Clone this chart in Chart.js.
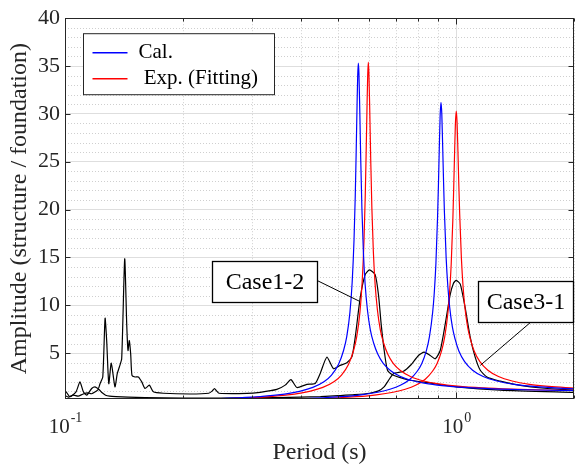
<!DOCTYPE html>
<html>
<head>
<meta charset="utf-8">
<script src="https://cdn.jsdelivr.net/npm/chart.js@4.4.1/dist/chart.umd.min.js"></script>
<style>
  html, body { margin: 0; padding: 0; background: #fff; }
</style>
</head>
<body>
<canvas id="chart" width="580" height="468"></canvas>
<script>
// values: period (s) vs amplitude ratio

// Case1-2, calculated (blue)
const calPeriod12 = [0.1, 0.15, 0.2, 0.25, 0.3, 0.35, 0.4, 0.43, 0.46, 0.48, 0.5, 0.515, 0.525, 0.535, 0.542, 0.548, 0.552, 0.555, 0.558, 0.56, 0.562, 0.564, 0.567, 0.57, 0.574, 0.579, 0.585, 0.593, 0.603, 0.615, 0.63, 0.65, 0.68, 0.72, 0.78, 0.85, 0.95, 1.1, 1.3, 1.6, 2.0];
const calAmp12 = [0.033, 0.077, 0.145, 0.247, 0.399, 0.634, 1.03, 1.41, 2.03, 2.7, 3.8, 5.24, 6.71, 9.28, 12.38, 16.84, 21.45, 26.08, 31.2, 34.0, 35.3, 34.3, 30.1, 25.3, 20.1, 15.6, 12.2, 9.5, 7.46, 6.05, 4.9, 3.96, 3.16, 2.56, 2.08, 1.78, 1.54, 1.353, 1.23, 1.141, 1.086];

// Case1-2, experiment fitting (red)
const expPeriod12 = [0.1, 0.1591, 0.2121, 0.2651, 0.3182, 0.3712, 0.4242, 0.456, 0.4878, 0.509, 0.5303, 0.5462, 0.5568, 0.5674, 0.5748, 0.5812, 0.5854, 0.5886, 0.5918, 0.5939, 0.596, 0.5981, 0.6013, 0.6045, 0.6087, 0.614, 0.6204, 0.6289, 0.6395, 0.6522, 0.6681, 0.6893, 0.7211, 0.7636, 0.8272, 0.9014, 1.0075, 1.1666, 1.3787, 1.6968, 2.0];
const expAmp12 = [0.029, 0.077, 0.145, 0.247, 0.399, 0.634, 1.03, 1.41, 2.03, 2.7, 3.8, 5.24, 6.71, 9.28, 12.38, 16.84, 21.45, 26.08, 31.2, 34.0, 35.4, 34.3, 30.1, 25.3, 20.1, 15.6, 12.2, 9.5, 7.46, 6.05, 4.9, 3.96, 3.16, 2.56, 2.08, 1.78, 1.54, 1.353, 1.23, 1.141, 1.098];

// Case3-1, calculated (blue)
const calPeriod31 = [0.1, 0.1523, 0.2285, 0.3047, 0.3656, 0.457, 0.5078, 0.5713, 0.6303, 0.677, 0.7197, 0.7617, 0.7948, 0.8161, 0.8385, 0.8542, 0.8705, 0.8788, 0.8874, 0.8961, 0.9005, 0.905, 0.9095, 0.914, 0.9186, 0.9232, 0.9279, 0.9327, 0.9423, 0.9521, 0.9621, 0.9775, 0.9935, 1.0156, 1.0506, 1.1012, 1.1718, 1.2694, 1.4062, 1.5759, 1.828, 2.0];
const calAmp31 = [0.012, 0.029, 0.067, 0.125, 0.19, 0.333, 0.446, 0.641, 0.907, 1.216, 1.632, 2.27, 3.1, 3.89, 5.23, 6.72, 9.27, 11.3, 14.4, 19.3, 22.5, 26.3, 29.7, 31.2, 30.0, 26.7, 23.1, 19.8, 15.0, 11.9, 9.8, 7.73, 6.45, 5.22, 4.11, 3.21, 2.55, 2.08, 1.73, 1.51, 1.333, 1.264];

// Case3-1, experiment fitting (red)
const expPeriod31 = [0.1, 0.1667, 0.25, 0.3333, 0.4, 0.5, 0.5556, 0.625, 0.6897, 0.7407, 0.7874, 0.8333, 0.8696, 0.8929, 0.9174, 0.9346, 0.9524, 0.9615, 0.9709, 0.9804, 0.9852, 0.9901, 0.995, 1.0, 1.005, 1.0101, 1.0152, 1.0204, 1.0309, 1.0417, 1.0526, 1.0695, 1.087, 1.1111, 1.1494, 1.2048, 1.2821, 1.3889, 1.5385, 1.7241, 2.0];
const expAmp31 = [0.01, 0.029, 0.067, 0.125, 0.19, 0.333, 0.446, 0.641, 0.907, 1.216, 1.632, 2.27, 3.1, 3.89, 5.23, 6.72, 9.24, 11.3, 14.3, 19.0, 22.2, 25.7, 28.9, 30.3, 29.1, 26.1, 22.7, 19.6, 14.9, 11.8, 9.75, 7.7, 6.45, 5.22, 4.11, 3.21, 2.55, 2.08, 1.73, 1.51, 1.333];

// Case1-2, measured (black)
const obsPeriod12 = [0.1, 0.1006, 0.103, 0.1067, 0.1092, 0.1114, 0.1136, 0.117, 0.1193, 0.1217, 0.1229, 0.1249, 0.1266, 0.1278, 0.1294, 0.1313, 0.1342, 0.136, 0.1377, 0.1396, 0.1421, 0.1438, 0.1449, 0.146, 0.1472, 0.1483, 0.151, 0.154, 0.1571, 0.1602, 0.1643, 0.1682, 0.1784, 0.2088, 0.233, 0.238, 0.241, 0.244, 0.2475, 0.2915, 0.3153, 0.3479, 0.3654, 0.378, 0.3914, 0.4151, 0.4359, 0.4488, 0.467, 0.4856, 0.505, 0.5254, 0.5411, 0.5518, 0.5682, 0.5851, 0.6001, 0.6205, 0.6328, 0.643, 0.6545, 0.6673, 0.6913, 0.7333, 0.7628, 0.875, 1.0, 1.2957, 2.0];
const obsAmp12 = [0.9, 0.95, 0.44, 0.95, 1.99, 0.95, 0.6, 1.3, 1.47, 1.3, 1.8, 2.5, 8.64, 6.3, 1.8, 3.95, 1.47, 2.85, 3.54, 4.4, 14.85, 8.0, 5.27, 6.3, 4.9, 2.68, 2.5, 2.5, 1.99, 1.3, 1.65, 0.95, 0.8, 0.72, 0.8, 1.05, 1.3, 1.05, 0.8, 0.78, 0.9, 1.2, 1.65, 2.23, 1.4, 1.73, 1.82, 2.85, 4.57, 3.37, 3.71, 4.0, 4.6, 6.64, 10.77, 13.2, 13.7, 13.2, 11.1, 8.0, 5.27, 3.2, 2.68, 2.33, 2.16, 1.82, 1.47, 1.13, 0.9];

// Case3-1, measured (black)
const obsPeriod31 = [0.1, 0.102, 0.105, 0.108, 0.111, 0.114, 0.117, 0.12, 0.122, 0.124, 0.127, 0.13, 0.135, 0.145, 0.16, 0.2, 0.25, 0.3, 0.35, 0.4, 0.45, 0.5, 0.55, 0.6, 0.633, 0.655, 0.67, 0.691, 0.733, 0.763, 0.801, 0.828, 0.858, 0.884, 0.91, 0.937, 0.965, 0.984, 1.0, 1.024, 1.054, 1.086, 1.118, 1.152, 1.198, 1.296, 1.4, 1.55, 1.71, 2.0];
const obsAmp31 = [0.55, 0.4, 0.6, 0.5, 0.7, 0.85, 0.75, 1.0, 1.2, 0.9, 0.6, 0.5, 0.45, 0.4, 0.35, 0.3, 0.3, 0.32, 0.35, 0.4, 0.45, 0.55, 0.65, 0.8, 1.05, 1.5, 2.1, 2.85, 3.1, 3.7, 4.75, 5.09, 4.75, 4.4, 5.27, 8.0, 11.1, 12.3, 12.6, 12.2, 9.74, 6.64, 4.57, 3.2, 2.5, 2.06, 1.75, 1.47, 1.3, 1.13];

// axes
const periodTicks = [0.1, 1];
const periodTickLabels = [['10', '-1'], ['10', '0']];
const periodMinorTicks = [0.2, 0.3, 0.4, 0.5, 0.6, 0.7, 0.8, 0.9, 2];
const ampTicks = [5, 10, 15, 20, 25, 30, 35, 40];
const ampMinorTicks = [1, 2, 3, 4, 6, 7, 8, 9, 11, 12, 13, 14, 16, 17, 18, 19, 21, 22, 23, 24, 26, 27, 28, 29, 31, 32, 33, 34, 36, 37, 38, 39];

const legendLabels = ['Cal.', ' Exp. (Fitting)'];
const legendColors = ['#0000ff', '#ff0000'];

// annotation boxes, in data units: [periodLeft, periodRight, ampTop, ampBottom]
const caseNames = ['Case1-2', 'Case3-1'];
const caseBoxes = [[0.2377, 0.4418, 14.67, 10.36], [1.1384, 1.992, 12.5, 8.26]];
const caseLeaders = [[0.4418, 12.57, 0.5648, 10.43], [1.5465, 8.19, 1.1519, 3.71]];

const serif = "'Liberation Serif', 'Times New Roman', serif";
const axisColor = '#262626';

const toPoints = (xs, ys) => xs.map((x, i) => ({x: x, y: ys[i]}));

const decorations = {
  id: 'decorations',
  beforeDatasetsDraw(chart) {
    const {ctx, chartArea: a, scales: {x, y}} = chart;
    ctx.save();
    ctx.strokeStyle = '#cfcfcf';
    ctx.lineWidth = 1;
    ctx.setLineDash([1, 2]);
    ctx.beginPath();
    periodMinorTicks.forEach(v => {
      const px = Math.round(x.getPixelForValue(v)) + 0.5;
      ctx.moveTo(px, a.top);
      ctx.lineTo(px, a.bottom);
    });
    ampMinorTicks.forEach(v => {
      const py = Math.round(y.getPixelForValue(v)) + 0.5;
      ctx.moveTo(a.left, py);
      ctx.lineTo(a.right, py);
    });
    ctx.stroke();
    ctx.restore();
  },
  afterDatasetsDraw(chart) {
    const {ctx, chartArea: a, scales: {x, y}} = chart;
    ctx.save();

    // axes box
    const L = Math.round(a.left) + 0.5, R = Math.round(a.right) - 0.5;
    const T = Math.round(a.top) + 0.5, B = Math.round(a.bottom) - 0.5;
    ctx.strokeStyle = axisColor;
    ctx.lineWidth = 1;
    ctx.strokeRect(L, T, R - L, B - T);

    // inward tick marks
    ctx.beginPath();
    ampTicks.forEach(v => {
      const py = Math.round(y.getPixelForValue(v)) + 0.5;
      ctx.moveTo(L, py); ctx.lineTo(L + 5, py);
      ctx.moveTo(R, py); ctx.lineTo(R - 5, py);
    });
    periodTicks.forEach(v => {
      const px = Math.round(x.getPixelForValue(v)) + 0.5;
      ctx.moveTo(px, B); ctx.lineTo(px, B - 6);
      ctx.moveTo(px, T); ctx.lineTo(px, T + 6);
    });
    periodMinorTicks.forEach(v => {
      const px = Math.round(x.getPixelForValue(v)) + 0.5;
      ctx.moveTo(px, B); ctx.lineTo(px, B - 3);
      ctx.moveTo(px, T); ctx.lineTo(px, T + 3);
    });
    ctx.stroke();

    // period tick labels with superscript exponent
    ctx.fillStyle = axisColor;
    ctx.textBaseline = 'alphabetic';
    ctx.textAlign = 'left';
    periodTicks.forEach((v, i) => {
      const [base, exp] = periodTickLabels[i];
      ctx.font = '21px ' + serif;
      const wb = ctx.measureText(base).width;
      ctx.font = '14px ' + serif;
      const we = ctx.measureText(exp).width;
      const px = x.getPixelForValue(v);
      const x0 = px - (wb + we) / 2;
      ctx.font = '21px ' + serif;
      ctx.fillText(base, x0, a.bottom + 34);
      ctx.font = '14px ' + serif;
      ctx.fillText(exp, x0 + wb + 1, a.bottom + 23);
    });

    // legend
    const lx = a.left + 18.5, ly = a.top + 15.5;
    ctx.fillStyle = '#fff';
    ctx.fillRect(lx, ly, 191, 61);
    ctx.strokeStyle = axisColor;
    ctx.strokeRect(lx, ly, 191, 61);
    ctx.font = '21px ' + serif;
    ctx.textBaseline = 'middle';
    legendLabels.forEach((txt, i) => {
      const yy = ly + 19 + i * 26;
      ctx.strokeStyle = legendColors[i];
      ctx.lineWidth = 1.5;
      ctx.beginPath();
      ctx.moveTo(lx + 9, yy); ctx.lineTo(lx + 44, yy);
      ctx.stroke();
      ctx.fillStyle = '#000';
      ctx.fillText(txt, lx + 55, yy);
    });

    // case labels with leader lines
    ctx.strokeStyle = '#000';
    ctx.lineWidth = 1;
    caseLeaders.forEach(l => {
      ctx.beginPath();
      ctx.moveTo(x.getPixelForValue(l[0]), y.getPixelForValue(l[1]));
      ctx.lineTo(x.getPixelForValue(l[2]), y.getPixelForValue(l[3]));
      ctx.stroke();
    });
    ctx.font = '24px ' + serif;
    ctx.textAlign = 'center';
    caseBoxes.forEach((b, i) => {
      const x1 = Math.round(x.getPixelForValue(b[0])) + 0.5;
      const x2 = Math.round(x.getPixelForValue(b[1])) + 0.5;
      const y1 = Math.round(y.getPixelForValue(b[2])) + 0.5;
      const y2 = Math.round(y.getPixelForValue(b[3])) + 0.5;
      ctx.fillStyle = '#fff';
      ctx.fillRect(x1, y1, x2 - x1, y2 - y1);
      ctx.lineWidth = 1.3;
      ctx.strokeRect(x1, y1, x2 - x1, y2 - y1);
      ctx.fillStyle = '#000';
      ctx.fillText(caseNames[i], (x1 + x2) / 2, (y1 + y2) / 2 + 1);
    });

    ctx.restore();
  }
};

const lineStyle = {pointRadius: 0, borderWidth: 1.2, fill: false};

new Chart('chart', {
  type: 'line',
  data: {
    datasets: [
      {label: 'Cal.', data: toPoints(calPeriod12, calAmp12), borderColor: '#0000ff', cubicInterpolationMode: 'monotone', ...lineStyle},
      {label: 'Exp. (Fitting)', data: toPoints(expPeriod12, expAmp12), borderColor: '#ff0000', cubicInterpolationMode: 'monotone', ...lineStyle},
      {label: 'Cal.', data: toPoints(calPeriod31, calAmp31), borderColor: '#0000ff', cubicInterpolationMode: 'monotone', ...lineStyle},
      {label: 'Exp. (Fitting)', data: toPoints(expPeriod31, expAmp31), borderColor: '#ff0000', cubicInterpolationMode: 'monotone', ...lineStyle},
      {label: 'Case1-2', data: toPoints(obsPeriod12, obsAmp12), borderColor: '#000', tension: 0.2, ...lineStyle},
      {label: 'Case3-1', data: toPoints(obsPeriod31, obsAmp31), borderColor: '#000', tension: 0.2, ...lineStyle}
    ]
  },
  options: {
    responsive: false,
    animation: false,
    devicePixelRatio: 1,
    layout: {padding: {top: 14, right: 6, left: 0, bottom: 0}},
    plugins: {legend: {display: false}, tooltip: {enabled: false}},
    scales: {
      x: {
        type: 'logarithmic',
        min: 0.1,
        max: 2,
        afterBuildTicks: s => { s.ticks = periodTicks.map(v => ({value: v, major: true})); },
        afterFit: s => { s.height = 69; },
        grid: {color: '#dedede', lineWidth: 1, drawTicks: false},
        border: {display: false},
        ticks: {display: false},
        title: {display: true, text: 'Period (s)', color: axisColor, font: {family: serif, size: 24}, padding: {top: 0, bottom: 1}}
      },
      y: {
        type: 'linear',
        min: 0.2,
        max: 40,
        afterBuildTicks: s => { s.ticks = ampTicks.map(v => ({value: v})); },
        afterFit: s => { s.width = 65; },
        grid: {color: '#dedede', lineWidth: 1, drawTicks: false},
        border: {display: false},
        ticks: {color: axisColor, font: {family: serif, size: 22}, padding: 5},
        title: {display: true, text: 'Amplitude (structure / foundation)', color: axisColor, font: {family: serif, size: 24}, padding: {top: 5, bottom: 0}}
      }
    }
  },
  plugins: [decorations]
});
</script>
</body>
</html>
